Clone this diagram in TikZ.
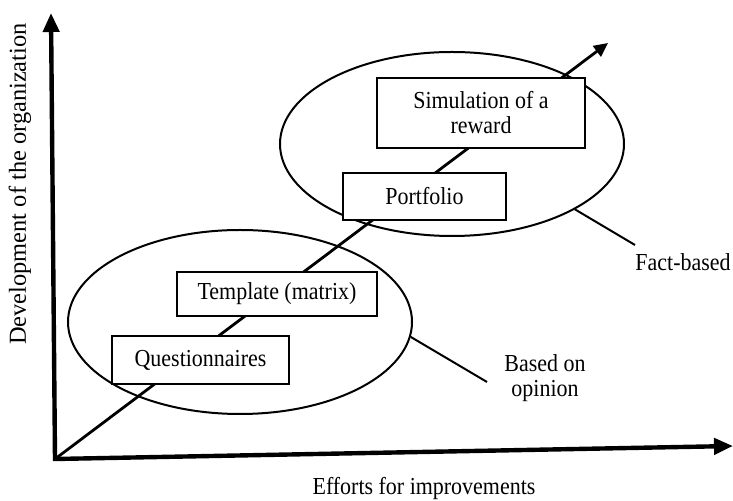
\documentclass[tikz,border=0pt]{standalone}
\usepackage{fontspec}
\setmainfont[FakeStretch=0.9]{Liberation Serif}
\newfontfamily\plainserif{Liberation Serif}
\usetikzlibrary{arrows.meta,positioning,shapes.geometric}

\begin{document}
\begin{tikzpicture}[x=0.5pt,y=-0.5pt,font=\fontsize{12.2}{12.5}\selectfont,
        method/.style={draw,line width=1pt,fill=white,inner sep=2pt},
        group/.style={ellipse,draw,line width=1pt,minimum width=172pt,minimum height=92pt,inner sep=0pt},
        axis/.style={line width=2.2pt,line join=miter,{Triangle[length=9.5pt,width=8pt]}-{Triangle[length=9.5pt,width=8pt]}},
        leader/.style={line width=1pt}]
            \useasboundingbox (0,0) rectangle (733,501);

            \coordinate (origin) at (55,459);
            \coordinate (y_end) at (51,13);
            \coordinate (x_end) at (733,446);
            \coordinate (d_end) at (608,43);

            \node[group] (facts) at (452,144) {};
            \node[group] (opinion) at (240,322) {};

            \draw[line width=1.4pt,-{Triangle[length=7pt,width=6.5pt]}] (origin) -- (d_end);

            \node[method,minimum width=88.5pt,minimum height=24pt] (quest) at (200.5,360) {Questionnaires};
            \node[method,minimum width=100pt,minimum height=22pt] (template) at (277,294) {Template (matrix)};
            \node[method,minimum width=81.5pt,minimum height=23.5pt] (portfolio) at (424.5,196.5) {Portfolio};
            \node[method,minimum width=104pt,minimum height=35pt,align=center] (sim) at (481,113) {Simulation of a\\reward};

            \draw[axis] (y_end) -- (origin) -- (x_end);

            \node[rotate=90,font=\plainserif\fontsize{12.2}{13}\selectfont] (y_lbl) at (20,184) {Development of the organization};
            \node (x_lbl) at (424,489) {Efforts for improvements};

            \node (fact_lbl) at (683,262) {Fact-based};
            \node[align=center] (opinion_lbl) at (545,378) {Based on\\opinion};
            \coordinate (fact_end) at (635,245);
            \coordinate (opinion_end) at (487,382);

            \draw[leader] (facts.-28) -- (fact_end);
            \draw[leader] (opinion.-5) -- (opinion_end);
\end{tikzpicture}
\end{document}
